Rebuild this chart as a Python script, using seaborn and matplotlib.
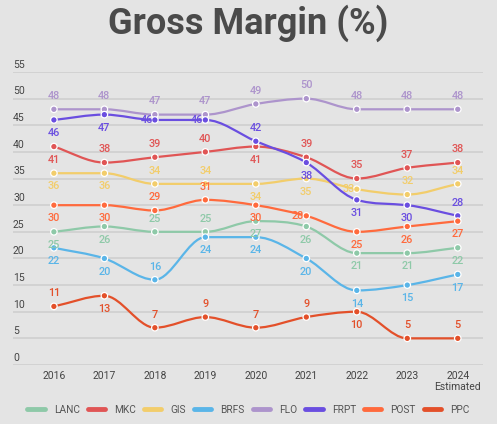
import numpy as np
import pandas as pd
import matplotlib.pyplot as plt
import seaborn as sns
from matplotlib.path import Path
from matplotlib.patches import PathPatch
from matplotlib.lines import Line2D

# Gross margin (%) by company, 2016-2024 (2024 estimated)
years = ['2016', '2017', '2018', '2019', '2020', '2021', '2022', '2023', '2024\nEstimated']
companies = ['LANC', 'MKC', 'GIS', 'BRFS', 'FLO', 'FRPT', 'POST', 'PPC']

lanc = [25, 26, 25, 25, 27, 26, 21, 21, 22]
mkc = [41, 38, 39, 40, 41, 39, 35, 37, 38]
gis = [36, 36, 34, 34, 34, 35, 33, 32, 34]
brfs = [22, 20, 16, 24, 24, 20, 14, 15, 17]
flo = [48, 48, 47, 47, 49, 50, 48, 48, 48]
frpt = [46, 47, 46, 46, 42, 38, 31, 30, 28]
post = [30, 30, 29, 31, 30, 28, 25, 26, 27]
ppc = [11, 13, 7, 9, 7, 9, 10, 5, 5]

series = [lanc, mkc, gis, brfs, flo, frpt, post, ppc]
colors = ['#8ec9a8', '#e05555', '#f2cd6b', '#5ab5e8', '#ad94cc', '#6a4ee0', '#ff6a3d', '#e3502a']

# where each value label sits: a = above, b = below, l = left of the point
label_pos = ['bbaabbbbb', 'baaabaaaa', 'bbaabblaa', 'bbabbbbbb',
             'aaaaaaaaa', 'bbllabbba', 'bbaablbbb', 'abaaaabaa']

df = pd.DataFrame({'x': np.tile(np.arange(len(years)), len(companies)),
                   'value': np.concatenate(series),
                   'company': np.repeat(companies, len(years))})

sns.set_style('white')
plt.rcParams['font.family'] = ['Roboto', 'DejaVu Sans']

bg = '#e4e4e4'
fig = plt.figure(figsize=(4.97, 4.24), dpi=100, facecolor=bg)
ax = fig.add_axes([13 / 497, 59 / 424, 470 / 497, 293 / 424], facecolor=bg)
ax.set_xlim(-0.81, 8.5)
ax.set_ylim(0, 55)
for s in ax.spines.values():
    s.set_visible(False)

# grid + y labels sitting on top of the lines
for t in range(0, 56, 5):
    ax.axhline(t, color='#cfcfcf', lw=1.2, zorder=0)
    ax.text(0.0, t + 1.35, str(t), transform=ax.get_yaxis_transform(),
            ha='left', va='center', fontsize=7.5, color='#444444')


def monotone_path(xs, ys):
    xs = np.asarray(xs, float)
    ys = np.asarray(ys, float)
    d = np.diff(ys) / np.diff(xs)
    m = np.zeros_like(ys)
    m[0], m[-1] = d[0], d[-1]
    for i in range(1, len(ys) - 1):
        m[i] = 0 if d[i - 1] * d[i] <= 0 else (d[i - 1] + d[i]) / 2
    for i in range(len(d)):
        if d[i] == 0:
            m[i] = m[i + 1] = 0
        else:
            a, b = m[i] / d[i], m[i + 1] / d[i]
            r = a * a + b * b
            if r > 9:
                k = 3 / np.sqrt(r)
                m[i], m[i + 1] = k * a * d[i], k * b * d[i]
    verts = [(xs[0], ys[0])]
    codes = [Path.MOVETO]
    for i in range(len(d)):
        h = xs[i + 1] - xs[i]
        verts += [(xs[i] + h / 3, ys[i] + m[i] * h / 3),
                  (xs[i + 1] - h / 3, ys[i + 1] - m[i + 1] * h / 3),
                  (xs[i + 1], ys[i + 1])]
        codes += [Path.CURVE4] * 3
    return Path(verts, codes)


for name, vals, col, pos in zip(companies, series, colors, label_pos):
    ax.add_patch(PathPatch(monotone_path(range(len(vals)), vals), fill=False,
                           edgecolor=col, lw=1.6, zorder=2))
    for i, v in enumerate(vals):
        if pos[i] == 'a':
            off = (0, 9.5)
        elif pos[i] == 'b':
            off = (0, -9.5)
        else:
            off = (-6, 0)
        ax.annotate(str(v), (i, v), xytext=off, textcoords='offset points',
                    ha='center', va='center', fontsize=7.8, color=col,
                    fontweight='medium', zorder=4)

sns.scatterplot(data=df, x='x', y='value', hue='company', palette=colors,
                hue_order=companies, s=22, edgecolor='white', linewidth=0.9,
                legend=False, ax=ax, zorder=3)

ax.set_xticks(range(len(years)))
ax.set_xticklabels(years, fontsize=7.5, color='#444444', linespacing=1.15)
ax.set_yticks([])
ax.tick_params(axis='x', length=0, pad=4)
ax.set_xlabel('')
ax.set_ylabel('')

fig.text(0.5, 0.945, 'Gross Margin (%)', ha='center', va='center',
         fontsize=26, fontweight='bold', color='#4a4a4a')

handles = [Line2D([0], [0], color=c, lw=3.5) for c in colors]
fig.legend(handles, companies, loc='center', bbox_to_anchor=(0.5, 14 / 424),
           ncol=8, frameon=False, fontsize=7.3, handlelength=1.7,
           handletextpad=0.9, columnspacing=0.8, labelcolor='#555555')

fig.savefig('out.png', dpi=100, facecolor=bg)
